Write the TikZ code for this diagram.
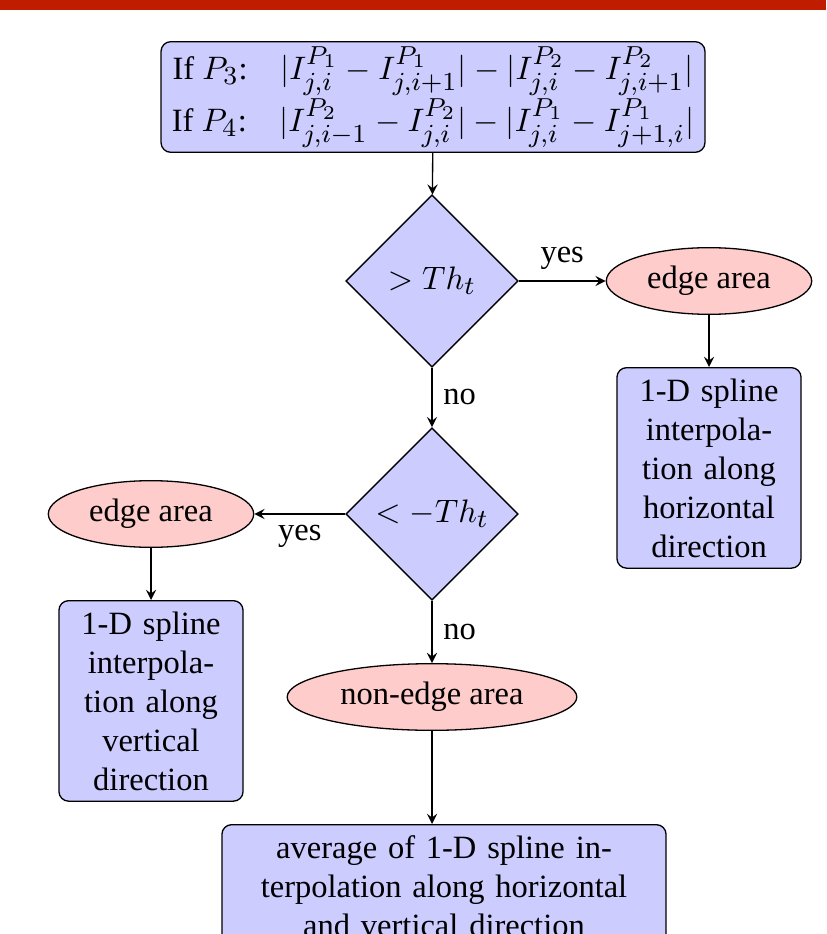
\documentclass[tikz,border=0pt]{standalone}
\usepackage{amsmath,amssymb}
\usepackage[no-math]{fontspec}
\setmainfont{Liberation Serif}
\usepackage{xcolor}
\usetikzlibrary{shapes,arrows,positioning,calc}
\DeclareMathSizes{10}{10}{8}{6}

\definecolor{topbar}{RGB}{192,28,0}

\begin{document}
\begin{tikzpicture}[x=0.3077pt, y=-0.3077pt, >=stealth,
    block/.style={draw, fill=blue!20, rounded corners=3pt, align=center},
    decision/.style={draw, fill=blue!20, diamond, aspect=1, minimum size=53pt, inner sep=0pt},
    area/.style={draw, fill=red!20, ellipse, inner ysep=1pt, minimum height=20.5pt},
    line/.style={draw, ->}]
    \clip (0,0) rectangle (826,934);
    \fill[topbar] (0,0) rectangle (826,10);

    % Nodes
    \node[block, inner ysep=1.5pt] (diff) at (433,97) {If $P_3$:\quad$|I^{P_1}_{j,i}-I^{P_1}_{j,i+1}|-|I^{P_2}_{j,i}-I^{P_2}_{j,i+1}|$\\
        If $P_4$:\quad$|I^{P_2}_{j,i-1}-I^{P_2}_{j,i}|-|I^{P_1}_{j,i}-I^{P_1}_{j+1,i}|$};
    \node[decision] (gt) at (432,281) {$>Th_t$};
    \node[area] (edgeR) at (709,281) {edge area};
    \node[block, anchor=north, text width=50pt] (horiz) at (709,367) {1-D spline\\ interpola-\\ tion along\\ horizontal\\ direction};
    \node[decision] (lt) at (432,514) {$<-Th_t$};
    \node[area] (edgeL) at (151,514) {edge area};
    \node[block, anchor=north, text width=50pt] (vert) at (151,600) {1-D spline\\ interpola-\\ tion along\\ vertical\\ direction};
    \node[area] (nonedge) at (432,697) {non-edge area};
    \node[block, anchor=north, text width=130pt] (avg) at (444,824) {average of 1-D spline in-\\ terpolation along horizontal\\ and vertical direction};

    % Arrows
    \draw[line] (diff) -- (gt);
    \draw[line] (gt) -- node[above] {yes} (edgeR);
    \draw[line] (edgeR) -- (horiz);
    \draw[line] (gt) -- node[right] {no} (lt);
    \draw[line] (lt) -- node[below] {yes} (edgeL);
    \draw[line] (edgeL) -- (vert);
    \draw[line] (lt) -- node[right] {no} (nonedge);
    \draw[line] (nonedge) -- (nonedge |- avg.north);
\end{tikzpicture}
\end{document}
